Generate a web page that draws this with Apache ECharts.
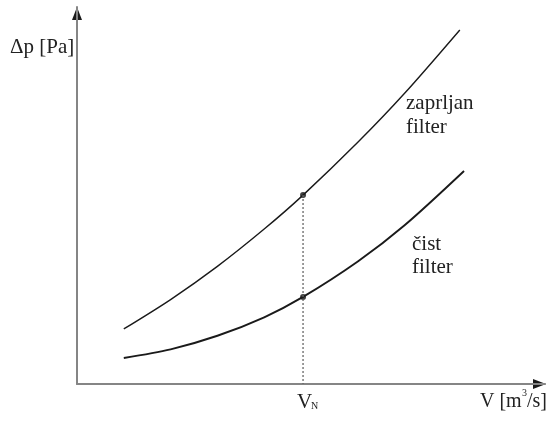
<!DOCTYPE html>
<html>
<head>
<meta charset="utf-8">
<script src="https://cdn.jsdelivr.net/npm/echarts@6/dist/echarts.min.js"></script>
<style>html,body{margin:0;padding:0;background:#fff;}#c{width:549px;height:421px;}</style>
</head>
<body>
<div id="c"></div>
<script>
// Data (arbitrary units)
var dirtyX = [1.00, 2.00, 3.00, 4.00, 4.83, 6.00, 7.00, 8.18];
var dirtyY = [1.46, 2.24, 3.12, 4.11, 5.01, 6.41, 7.71, 9.39];
var cleanX = [1.00, 2.00, 3.00, 4.00, 4.83, 6.00, 7.00, 8.27];
var cleanY = [0.69, 0.92, 1.28, 1.77, 2.31, 3.25, 4.21, 5.65];
var VN = 4.83;
var vnY = [5.01, 2.31];
var labels = {
  y: 'Δp [Pa]', dirty1: 'zaprljan', dirty2: 'filter', clean1: 'čist', clean2: 'filter'
};

function pairs(xs, ys){ return xs.map(function(x,i){return [x, ys[i]];}); }

var font = '"Liberation Serif","DejaVu Serif",serif';
var txtColor = '#222';
var chart = echarts.init(document.getElementById('c'), null, {renderer:'canvas'});
chart.setOption({
  animation: false,
  backgroundColor: '#fff',
  grid: {left: 77, right: 4, top: 7, bottom: 37},
  xAxis: {type:'value', min:0, max:10, axisLine:{show:true, onZero:false, lineStyle:{color:'#858585', width:2}},
    axisTick:{show:false}, axisLabel:{show:false}, splitLine:{show:false}},
  yAxis: {type:'value', min:0, max:10, axisLine:{show:true, onZero:false, lineStyle:{color:'#858585', width:2}},
    axisTick:{show:false}, axisLabel:{show:false}, splitLine:{show:false}},
  series: [
    {type:'line', data: pairs(dirtyX, dirtyY), smooth:0.3, showSymbol:false,
      lineStyle:{color:'#1a1a1a', width:1.4}},
    {type:'line', data: pairs(cleanX, cleanY), smooth:0.3, showSymbol:false,
      lineStyle:{color:'#1a1a1a', width:1.9}},
    {type:'line', data: [[VN, vnY[0]],[VN, 0]], showSymbol:false,
      lineStyle:{color:'#666', width:1.3, type:[2,2]}},
    {type:'scatter', data: vnY.map(function(y){return [VN,y];}), symbolSize:6,
      itemStyle:{color:'#111'}}
  ],
  graphic: [
    {type:'polygon', shape:{points:[[77,7],[72,20],[82,20]]}, style:{fill:'#1a1a1a'}},
    {type:'polygon', shape:{points:[[546,384],[533,379],[533,389]]}, style:{fill:'#1a1a1a'}},
    {type:'text', x:10, y:47, style:{text:labels.y, font:'21px '+font, fill:txtColor, verticalAlign:'middle'}},
    {type:'text', x:406, y:103, style:{text:labels.dirty1, font:'21px '+font, fill:txtColor, verticalAlign:'middle'}},
    {type:'text', x:406, y:127, style:{text:labels.dirty2, font:'21px '+font, fill:txtColor, verticalAlign:'middle'}},
    {type:'text', x:412, y:244, style:{text:labels.clean1, font:'21px '+font, fill:txtColor, verticalAlign:'middle'}},
    {type:'text', x:412, y:267, style:{text:labels.clean2, font:'21px '+font, fill:txtColor, verticalAlign:'middle'}},
    {type:'text', x:297, y:402, style:{text:'V', font:'21px '+font, fill:txtColor, verticalAlign:'middle'}},
    {type:'text', x:311, y:406, style:{text:'N', font:'10px '+font, fill:txtColor, verticalAlign:'middle'}},
    {type:'text', x:480, y:402, style:{text:'V [m', font:'20px '+font, fill:txtColor, verticalAlign:'middle'}},
    {type:'text', x:522, y:393, style:{text:'3', font:'10px '+font, fill:txtColor, verticalAlign:'middle'}},
    {type:'text', x:527, y:402, style:{text:'/s]', font:'20px '+font, fill:txtColor, verticalAlign:'middle'}}
  ]
});
</script>
</body>
</html>
